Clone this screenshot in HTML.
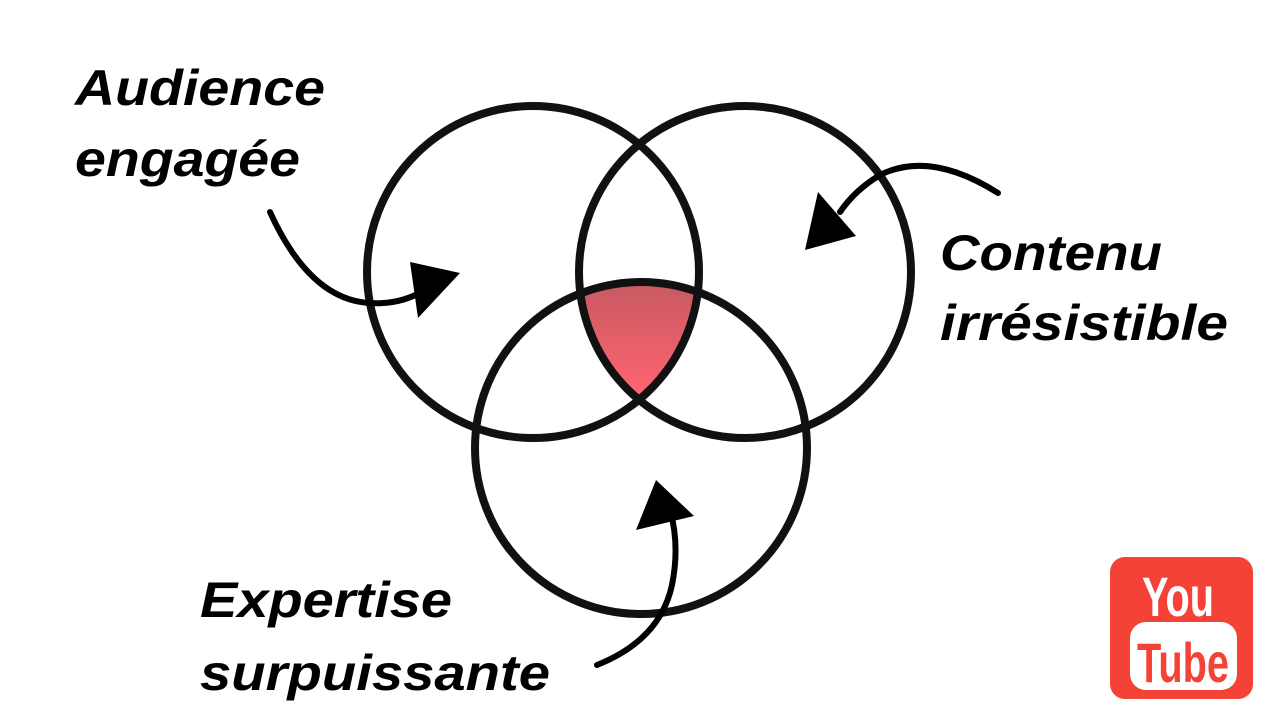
<!DOCTYPE html>
<html><head><meta charset="utf-8"><style>html,body{margin:0;padding:0;background:#fff}</style></head>
<body>
<svg width="1280" height="720" viewBox="0 0 1280 720" xmlns="http://www.w3.org/2000/svg">
<defs>
<clipPath id="c1"><circle cx="533" cy="272" r="166"/></clipPath>
<clipPath id="c2"><circle cx="745" cy="272" r="166"/></clipPath>
<linearGradient id="g" gradientUnits="userSpaceOnUse" x1="0" y1="285" x2="0" y2="395"><stop offset="0" stop-color="#c85a62"/><stop offset="1" stop-color="#ff6470"/></linearGradient>
</defs>
<rect width="1280" height="720" fill="#fff"/>
<g clip-path="url(#c1)"><g clip-path="url(#c2)"><circle cx="641" cy="448" r="166" fill="url(#g)"/></g></g>
<g fill="none" stroke="#111" stroke-width="8">
<circle cx="533" cy="272" r="166"/>
<circle cx="745" cy="272" r="166"/>
<circle cx="641" cy="448" r="166"/>
</g>
<g fill="none" stroke="#000" stroke-width="6" stroke-linecap="round">
<path d="M270 212 Q310 300 370 303 Q400 305 425 290"/>
<path d="M998 193 Q930 150 880 175 Q855 190 840 212"/>
<path d="M597 665 Q660 640 672 585 Q680 545 670 510"/>
</g>
<g fill="#000">
<polygon points="410,262 460,273 418,318"/>
<polygon points="805,250 818,192 856,236"/>
<polygon points="656,480 636,530 694,516"/>
</g>
<g font-family="Liberation Sans, sans-serif" font-style="italic" font-weight="bold" font-size="50" fill="#000">
<text x="75" y="105" textLength="250" lengthAdjust="spacingAndGlyphs">Audience</text>
<text x="75" y="176" textLength="225" lengthAdjust="spacingAndGlyphs">engagée</text>
<text x="940" y="270" textLength="222" lengthAdjust="spacingAndGlyphs">Contenu</text>
<text x="940" y="340" textLength="288" lengthAdjust="spacingAndGlyphs">irrésistible</text>
<text x="200" y="617" textLength="252" lengthAdjust="spacingAndGlyphs">Expertise</text>
<text x="200" y="690" textLength="350" lengthAdjust="spacingAndGlyphs">surpuissante</text>
</g>
<rect x="1110" y="557" width="143" height="142" rx="15" fill="#f44336"/>
<text x="1178" y="616" font-family="Liberation Sans, sans-serif" font-weight="bold" font-size="56" fill="#fff" text-anchor="middle" textLength="72" lengthAdjust="spacingAndGlyphs">You</text>
<rect x="1130" y="622" width="107" height="68" rx="16" fill="#fff"/>
<text x="1183" y="682" font-family="Liberation Sans, sans-serif" font-weight="bold" font-size="56" fill="#f44336" text-anchor="middle" textLength="92" lengthAdjust="spacingAndGlyphs">Tube</text>
</svg>
</body></html>
